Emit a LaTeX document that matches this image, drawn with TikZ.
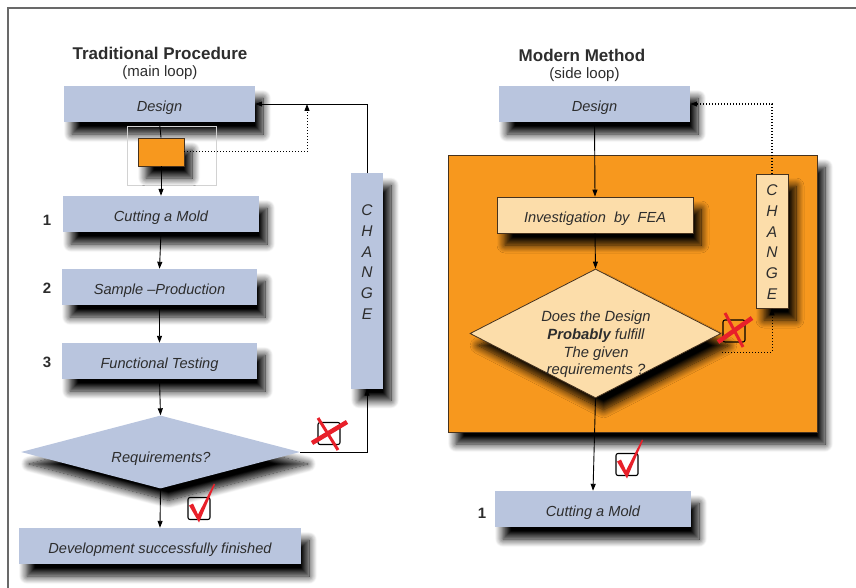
\documentclass[tikz,border=0pt]{standalone}
\usepackage{fontspec}
\setmainfont{Liberation Sans}
\usetikzlibrary{shapes.geometric,arrows.meta,shadows.blur}
\definecolor{boxblue}{RGB}{185,197,222}
\definecolor{orng}{RGB}{247,152,30}
\definecolor{peach}{RGB}{252,221,170}
\definecolor{txt}{RGB}{45,45,45}
\definecolor{markred}{RGB}{232,32,42}
\definecolor{framegray}{RGB}{105,105,105}
\definecolor{edgedark}{RGB}{70,50,30}
\begin{document}
\begin{tikzpicture}[x=1pt,y=-1pt,
  font=\fontsize{14.6}{17}\selectfont,
  shad/.style={blur shadow={shadow xshift=8pt,shadow yshift=-12pt,shadow blur radius=8pt,shadow opacity=100,shadow blur steps=12}},
  bluebox/.style={shape=rectangle,fill=boxblue,inner sep=0pt,shad,text=txt,text height=15pt,text depth=0pt,font=\fontsize{14.6}{17}\selectfont\itshape},
  peachbox/.style={shape=rectangle,fill=peach,draw=edgedark,line width=0.8pt,inner sep=0pt,shad,text=txt,text height=15pt,text depth=0pt,font=\fontsize{14.6}{17}\selectfont\itshape},
  title/.style={text=txt,font=\fontsize{17}{20}\selectfont\bfseries},
  subtitle/.style={text=txt,font=\fontsize{15}{18}\selectfont},
  num/.style={text=txt,font=\fontsize{15}{18}\selectfont\bfseries},
  lettercol/.style={text=txt,align=center,font=\fontsize{15.5}{20.8}\selectfont\itshape},
  arr/.style={-{Triangle[length=7pt,width=5pt]},line width=0.9pt,black},
  dotarr/.style={-{Triangle[length=7pt,width=5pt]},line width=1pt,black,dotted},
  plainline/.style={line width=0.9pt,black},
  chkbox/.style={draw=black,line width=1.1pt,rounded corners=2pt,minimum size=22pt,inner sep=0pt},
  crossline/.style={markred,line width=4.5pt}
]
\useasboundingbox (0,0) rectangle (856,588);
% frame
\draw[framegray,line width=2pt] (7,8) -- (856,8);
\draw[framegray,line width=2pt] (8,8) -- (8,588);

% ---------- left: Traditional Procedure ----------
\node[title] (ltitle) at (160,53) {Traditional Procedure};
\node[subtitle] (lsub) at (160,73) {(main loop)};

\node[bluebox,minimum width=191pt,minimum height=36pt] (ldesign) at (159.5,104) {Design};
\node[draw=gray!35,line width=0.5pt,minimum width=89pt,minimum height=59pt,inner sep=0pt] (lfaint) at (171.5,155.5) {};
\node[fill=orng,draw=edgedark,line width=0.8pt,minimum width=46pt,minimum height=28pt,inner sep=0pt,shad] (lorange) at (161,152) {};

\node[bluebox,minimum width=196pt,minimum height=36pt] (lcut) at (161,214) {Cutting a Mold};
\node[bluebox,minimum width=195pt,minimum height=36pt] (lsample) at (159.5,287) {Sample –Production};
\node[bluebox,minimum width=195pt,minimum height=36pt] (lfunc) at (159.5,361) {Functional Testing};
\node[num] (n1) at (47,220) {1};
\node[num] (n2) at (47,288) {2};
\node[num] (n3) at (47,362) {3};

\node[diamond,fill=boxblue,inner sep=0pt,minimum width=279pt,minimum height=73pt,shad] (ldia) at (160.5,452) {};
\node[text=txt,font=\fontsize{14.6}{17}\selectfont\itshape] (ldiatext) at (161,458.5) {Requirements?};

\node[bluebox,minimum width=282pt,minimum height=36pt] (ldev) at (160,546) {Development successfully finished};

\node[bluebox,minimum width=32pt,minimum height=215pt] (lchange) at (367,281) {};
\node[lettercol] (lchangetxt) at (367,262) {C\\H\\A\\N\\G\\E};

\coordinate (ljoin) at (307,104);
\draw[plainline] (ldesign.south) -- (lorange.north);
\draw[arr] (lorange.south) -- (lcut.north);
\draw[arr] (lcut.south) -- (lsample.north);
\draw[arr] (lsample.south) -- (lfunc.north);
\draw[arr] (lfunc.south) -- (ldia.north);
\draw[arr] (ldia.south) -- (ldev.north);
\draw[arr] (ldia.east) -| (lchange.south);
\draw[arr] (lchange.north) |- (ldesign.east);
\draw[dotarr] (lorange.east) -| (ljoin);

% marks left
\node[chkbox] (lcross) at (329,433.5) {};
\begin{scope}[shift={(lcross.center)}]
\draw[crossline] (-17,9.5) -- (18,-11.5);
\draw[crossline,line width=3pt] (-11,-15.5) -- (9,16.5);
\end{scope}
\node[chkbox] (lcheck) at (199,508.5) {};
\begin{scope}[shift={(lcheck.center)}]
\fill[markred] (-10,-3) -- (-6,-5) -- (-1,6) -- (15,-25) -- (16,-24) -- (0,14) -- cycle;
\end{scope}

% ---------- right: Modern Method ----------
\node[title] (rtitle) at (582,55) {Modern Method};
\node[subtitle] (rsub) at (584.5,75) {(side loop)};

\node[bluebox,minimum width=191pt,minimum height=36pt] (rdesign) at (594.5,104) {Design};

\node[fill=orng,draw=edgedark,line width=0.9pt,minimum width=369pt,minimum height=277pt,inner sep=0pt,shad] (rarea) at (632.5,293.5) {};

\node[peachbox,minimum width=196pt,minimum height=36pt] (rfea) at (595,215) {Investigation\ \ by\ \ FEA};

\node[diamond,fill=peach,draw=edgedark,line width=0.8pt,inner sep=0pt,minimum width=251pt,minimum height=129pt,shad] (rdia) at (595.5,333.5) {};
\node[text=txt,align=center,font=\fontsize{14.8}{17.7}\selectfont\itshape] (rdiatext) at (596,344.5) {Does the Design\\\textbf{Probably} fulfill\\The given\\requirements ?};

\node[peachbox,minimum width=32pt,minimum height=134pt] (rchange) at (772,241) {};
\node[lettercol] (rchangetxt) at (772,242) {C\\H\\A\\N\\G\\E};

\node[bluebox,minimum width=196pt,minimum height=36pt] (rcut) at (593,509) {Cutting a Mold};
\node[num] (rn1) at (482,513) {1};

\coordinate (rout) at (722,352);
\draw[arr] (rdesign.south) -- (rfea.north);
\draw[arr] (rfea.south) -- (rdia.north);
\draw[arr] (rdia.south) -- (rcut.north);
\draw[dotarr] (rout) -| (rchange.south);
\draw[dotarr,line width=1.4pt] (rchange.north) |- (rdesign.east);

% marks right
\node[chkbox] (rcross) at (734,331) {};
\begin{scope}[shift={(rcross.center)}]
\draw[crossline] (-16,11) -- (18,-13);
\draw[crossline,line width=3pt] (-9,-18) -- (9,16);
\end{scope}
\node[chkbox] (rcheck) at (627,464.5) {};
\begin{scope}[shift={(rcheck.center)}]
\fill[markred] (-10,-3) -- (-6,-5) -- (-1,6) -- (15,-25) -- (16,-24) -- (0,14) -- cycle;
\end{scope}
\end{tikzpicture}
\end{document}
